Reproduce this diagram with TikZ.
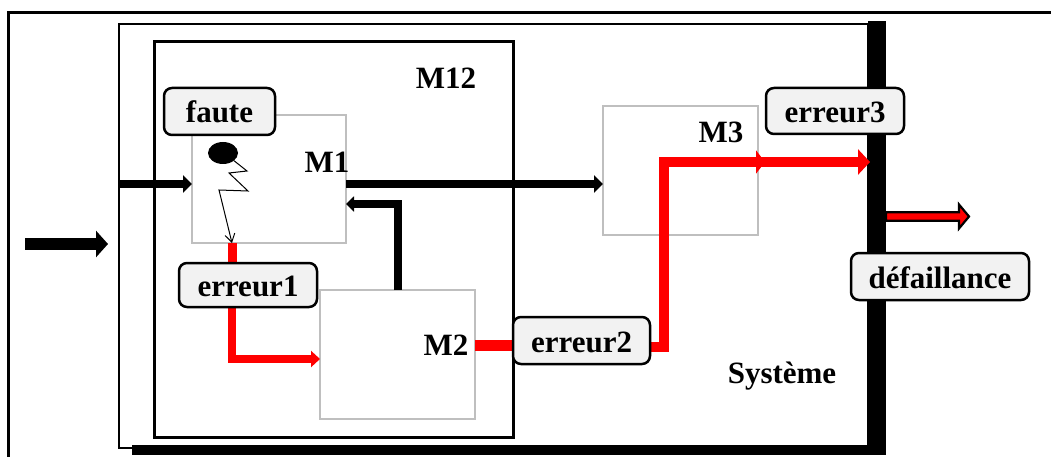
\documentclass[tikz,border=0pt]{standalone}
\usepackage{fontspec}
\setmainfont{Liberation Serif}
\usetikzlibrary{arrows.meta,shapes.geometric,calc}
\definecolor{boxgray}{HTML}{BFBFBF}
\definecolor{lblfill}{HTML}{F2F2F2}
\definecolor{errred}{HTML}{FF0000}
\pgfdeclarelayer{front}
\pgfsetlayers{main,front}
\begin{document}
\begin{tikzpicture}[x=1pt,y=-1pt,
  lab/.style={font=\fontsize{31}{31}\selectfont\bfseries, inner sep=0pt},
  modbox/.style={draw=boxgray, line width=2.5pt, inner sep=0pt, outer sep=0pt, rectangle},
  lbl/.style={draw=black, fill=lblfill, line width=2.5pt, rounded corners=8pt,
    inner sep=0pt, outer sep=0pt, text height=23pt, text depth=0pt,
    font=\fontsize{31}{31}\selectfont\bfseries},
  blk/.style={line width=7pt, black},
  redl/.style={line width=9pt, errred},
]
\useasboundingbox (0,0) rectangle (1051,457);

% frames
\draw[line width=3pt] (8,470) -- (8,13) -- (1060,13);
\draw[line width=2.5pt] (119,24) rectangle (868,448);
\fill (132,445) rectangle (886,455);
\node[draw, line width=3pt, minimum width=359pt, minimum height=395pt, inner sep=0pt, outer sep=0pt] (M12) at (333.5,239.5) {};

% modules
\node[modbox, minimum width=154pt, minimum height=128pt] (M1) at (269,179) {};
\node[modbox, minimum width=155pt, minimum height=129pt] (M2) at (397.5,354.5) {};
\node[modbox, minimum width=155pt, minimum height=129pt] (M3) at (680.5,170.5) {};

% right bar
\node[fill=black, minimum width=18pt, minimum height=432pt, inner sep=0pt, outer sep=0pt] (bar) at (877,237) {};

% fault point
\node[ellipse, fill=black, minimum width=30pt, minimum height=22pt, inner sep=0pt] (fault) at (223,153) {};

% labels
\begin{pgfonlayer}{front}
\node[lbl, minimum width=111pt, minimum height=47pt] (faute) at (219.5,111.5) {faute};
\node[lbl, minimum width=138pt, minimum height=44pt] (erreur1) at (248,285) {erreur1};
\node[lbl, minimum width=137pt, minimum height=47pt] (erreur2) at (581.5,340.5) {erreur2};
\node[lbl, minimum width=138pt, minimum height=46pt] (erreur3) at (835,111) {erreur3};
\node[lbl, minimum width=178pt, minimum height=47pt] (defail) at (940,276.5) {défaillance};
\node[lab, anchor=base] (tM1) at (327,172) {M1};
\node[lab, anchor=base] (tM2) at (446,355) {M2};
\node[lab, anchor=base] (tM3) at (721,143) {M3};
\node[lab, anchor=base] (tM12) at (446,89) {M12};
\node[lab, anchor=base] (tsys) at (782,383) {Système};
\end{pgfonlayer}

% helper coordinates
\coordinate (in0) at (25,244);
\coordinate (in1) at (108,244);
\coordinate (s0) at (119,184);
\coordinate (fb) at (398,204);
\coordinate (rx) at (232,0);
\coordinate (r1) at (0,359);
\coordinate (r2) at (0,345);
\coordinate (r3) at (0,346.5);
\coordinate (bend) at (663.5,162);
\coordinate (out0) at (886,216.5);

% black connectors
\draw[line width=12pt, -{Triangle[length=12pt,width=26pt]}] (in0) -- (in1);
\draw[blk, -{Triangle[length=9pt,width=17pt]}] (s0) -- (s0 -| M1.west);
\draw[blk, -{Triangle[length=9pt,width=17pt]}] (M1.east |- s0) -- (M3.west |- s0);
\draw[line width=8pt, -{Triangle[length=8pt,width=15pt]}] (M2.north -| fb) -- (fb) -- (fb -| M1.east);

% lightning
\draw[line width=1pt, -{Straight Barb[length=8pt,width=10pt]}]
  (fault.-35) -- (247,171) -- (229,173) -- (248,191) -- (219,190) -- (rx |- M1.south);

% red connectors
\draw[redl] (rx |- M1.south) -- (rx |- erreur1.north);
\draw[redl, line width=8pt, -{Triangle[length=9pt,width=16pt]}] (rx |- erreur1.south) |- (M2.west |- r1);
\draw[errred, line width=11pt] (M2.east |- r2) -- (erreur2.west |- r2);
\draw[redl, line width=10pt, -{Triangle[length=9pt,width=23pt]}] (erreur2.east |- r3) -| (bend) -- ($(M3.east |- bend)+(7,0)$);
\draw[redl, line width=10pt, -{Triangle[length=12pt,width=25pt]}] (M3.east |- bend) -- ($(bar.west |- bend)+(2,0)$);

% output arrow
\draw[fill=errred, line width=2.2pt, line join=miter] (out0) ++(0,-4.2) -- ++(73,0) -- ++(0,-7.8) -- ++(10,12) -- ++(-10,12) -- ++(0,-7.8) -- ++(-73,0) -- cycle;
\end{tikzpicture}
\end{document}
